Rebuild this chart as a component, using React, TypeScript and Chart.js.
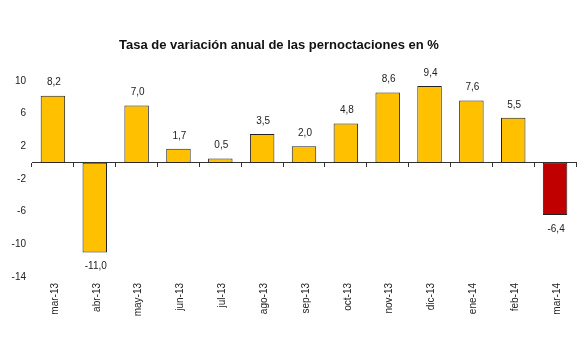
import React, { useEffect, useRef } from "react";
import { Chart, registerables } from "chart.js";

Chart.register(...registerables);

const categories = [
  "mar-13", "abr-13", "may-13", "jun-13", "jul-13", "ago-13", "sep-13",
  "oct-13", "nov-13", "dic-13", "ene-14", "feb-14", "mar-14",
];
const values = [8.2, -11.0, 7.0, 1.7, 0.5, 3.5, 2.0, 4.8, 8.6, 9.4, 7.6, 5.5, -6.4];
const barColors = [
  "#FFC000", "#FFC000", "#FFC000", "#FFC000", "#FFC000", "#FFC000", "#FFC000",
  "#FFC000", "#FFC000", "#FFC000", "#FFC000", "#FFC000", "#C00000",
];
const yTicks = [-14, -10, -6, -2, 2, 6, 10];
const titleText = "Tasa de variación anual de las pernoctaciones en %";

const FONT = "'Liberation Sans', Arial, sans-serif";

const dataLabelPlugin = {
  id: "dataLabels",
  afterDatasetsDraw(chart: any) {
    const ctx = chart.ctx;
    const meta = chart.getDatasetMeta(0);
    ctx.save();
    ctx.font = `10px ${FONT}`;
    ctx.fillStyle = "#222";
    ctx.textAlign = "center";
    ctx.textBaseline = "middle";
    meta.data.forEach((bar: any, i: number) => {
      const v = values[i];
      const txt = v.toFixed(1).replace(".", ",");
      if (v >= 0) {
        ctx.fillText(txt, bar.x + 1, bar.y - 13);
      } else {
        ctx.fillText(txt, bar.x + 1, bar.y + 14);
      }
    });
    ctx.restore();
  },
};

export default function App() {
  const ref = useRef<HTMLCanvasElement>(null);
  useEffect(() => {
    if (!ref.current) return;
    const chart = new Chart(ref.current, {
      type: "bar",
      data: {
        labels: categories,
        datasets: [
          {
            data: values,
            backgroundColor: barColors,
            borderColor: "#222",
            borderWidth: 1,
            borderSkipped: false,
            barPercentage: 0.585,
            categoryPercentage: 1,
          },
        ],
      },
      options: {
        responsive: false,
        animation: false,
        layout: { padding: { left: 0, right: 9, top: 0, bottom: 0 } },
        plugins: {
          legend: { display: false },
          tooltip: { enabled: false },
          title: {
            display: true,
            text: titleText + "\u00a0\u00a0\u00a0\u00a0\u00a0",
            color: "#111",
            font: { family: FONT, size: 13, weight: "bold" },
            padding: { top: 38, bottom: 27.4 },
          },
        },
        scales: {
          x: {
            type: "category",
            position: "bottom",
            offset: true,
            grid: { display: false },
            border: { display: false },
            ticks: {
              color: "#222",
              font: { family: FONT, size: 10 },
              minRotation: 90,
              maxRotation: 90,
              padding: -2,
              labelOffset: 2,
              autoSkip: false,
            },
            afterFit(scale: any) {
              scale.height = 78;
            },
          },
          x2: {
            type: "category",
            position: { y: 0 } as any,
            offset: true,
            grid: {
              display: true,
              offset: true,
              drawOnChartArea: false,
              drawTicks: true,
              tickLength: 4,
              color: "#333",
            },
            border: { display: true, color: "#333", width: 1 },
            ticks: { display: false },
          },
          y: {
            type: "linear",
            min: -14,
            max: 10,
            grid: { display: false, drawTicks: false },
            border: { display: false },
            ticks: {
              color: "#222",
              font: { family: FONT, size: 10 },
              padding: 6,
            },
            afterBuildTicks(scale: any) {
              scale.ticks = yTicks.map((v) => ({ value: v }));
            },
            afterFit(scale: any) {
              scale.width = 32;
            },
          },
        },
      },
      plugins: [dataLabelPlugin],
    });
    return () => chart.destroy();
  }, []);
  return (
    <div style={{ position: "absolute", left: 0, top: 0, width: 585, height: 355, background: "#fff" }}>
      <canvas ref={ref} width={585} height={355} style={{ display: "block" }} />
    </div>
  );
}
